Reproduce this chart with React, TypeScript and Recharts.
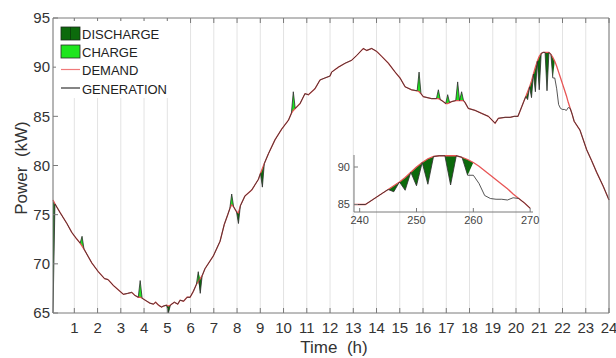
import React from 'react';
import { ComposedChart, Line, Area, XAxis, YAxis, CartesianGrid } from 'recharts';

// Time in hours (5-minute samples around events)
const hours = [
  0.083, 0.167, 0.39, 0.68, 0.89, 1.08, 1.25, 1.333, 1.417, 1.75,
  2.03, 2.3, 2.45, 2.68, 3.11, 3.3, 3.47, 3.6, 3.75, 3.833,
  3.917, 4.12, 4.25, 4.4, 4.5, 4.62, 4.75, 4.83, 4.967, 5.05,
  5.133, 5.3, 5.45, 5.55, 5.7, 5.85, 5.98, 6.12, 6.25, 6.333,
  6.417, 6.5, 6.62, 6.98, 7.27, 7.45, 7.6, 7.687, 7.77, 7.853,
  7.977, 8.06, 8.143, 8.34, 8.63, 8.92, 9.007, 9.09, 9.173, 9.35,
  9.63, 9.92, 10.21, 10.337, 10.42, 10.503, 10.71, 10.92, 11.07, 11.35,
  11.57, 11.78, 12.0, 12.07, 12.36, 12.65, 12.93, 13.15, 13.43, 13.58,
  13.79, 14.01, 14.22, 14.51, 14.8, 15.01, 15.23, 15.51, 15.747, 15.83,
  15.913, 16.01, 16.37, 16.577, 16.66, 16.743, 16.87, 16.977, 17.06, 17.143,
  17.23, 17.407, 17.49, 17.573, 17.66, 17.743, 17.81, 17.95, 18.24, 18.52,
  18.81, 19.1, 19.24, 19.53, 19.75, 19.917, 20, 20.083, 20.167, 20.25,
  20.333, 20.417, 20.5, 20.583, 20.667, 20.75, 20.833, 20.917, 21, 21.083,
  21.167, 21.25, 21.333, 21.417, 21.5, 21.583, 21.667, 21.75, 21.833, 21.917,
  22, 22.083, 22.167, 22.25, 22.333, 22.417, 22.5, 22.75, 23.04, 23.25,
  23.47, 23.75, 24,
];

// Demand (kW)
const demand = [
  76.5, 76.1, 75.2, 74.1, 73.2, 72.6, 72.1, 71.8, 71.5, 70.1,
  69.2, 68.5, 68.4, 67.8, 66.9, 67.0, 67.1, 66.8, 66.6, 66.6,
  66.5, 66.2, 66.0, 65.9, 66.1, 65.8, 65.6, 65.7, 65.8, 65.7,
  65.8, 66.1, 65.9, 66.3, 66.2, 66.6, 66.6, 67.2, 67.9, 68.2,
  68.5, 68.8, 69.5, 70.8, 72.3, 74.0, 75.0, 75.6, 76.0, 75.8,
  75.3, 75.2, 75.9, 76.9, 77.5, 78.6, 79.2, 79.7, 80.2, 81.2,
  82.6, 83.7, 84.6, 85.3, 85.6, 85.8, 86.3, 87.3, 87.2, 87.8,
  88.7, 88.9, 89.1, 89.5, 90.0, 90.4, 90.7, 91.2, 91.9, 91.7,
  91.9, 91.6, 91.1, 90.4, 89.5, 88.9, 88.0, 87.7, 87.6, 87.5,
  87.3, 87.0, 86.8, 86.8, 86.8, 86.7, 86.5, 86.3, 86.3, 86.4,
  86.5, 86.6, 86.6, 86.6, 86.6, 86.6, 86.4, 85.8, 85.6, 85.3,
  85.0, 84.3, 84.8, 84.9, 84.9, 85.0, 85.0, 85.0, 85.5, 86.0,
  86.5, 87.0, 87.5, 88.0, 88.6, 89.3, 90.0, 90.6, 91.1, 91.4,
  91.5, 91.5, 91.5, 91.5, 91.3, 91.0, 90.6, 90.1, 89.5, 88.9,
  88.3, 87.7, 87.1, 86.4, 85.8, 85.2, 84.5, 83.6, 81.6, 80.5,
  79.3, 77.9, 76.5,
];

// Generation (kW)
const generation = [
  65.0, 76.1, 75.2, 74.1, 73.2, 72.6, 72.1, 72.8, 71.5, 70.1,
  69.2, 68.5, 68.4, 67.8, 66.9, 67.0, 67.1, 66.8, 66.6, 68.3,
  66.5, 66.2, 66.0, 65.9, 66.1, 65.8, 65.6, 65.7, 65.8, 65.0,
  65.8, 66.1, 65.9, 66.3, 66.2, 66.6, 66.6, 67.2, 67.9, 69.2,
  67.0, 68.8, 69.5, 70.8, 72.3, 74.0, 75.0, 75.6, 77.1, 75.8,
  75.3, 74.1, 75.9, 76.9, 77.5, 78.6, 79.2, 77.8, 80.2, 81.2,
  82.6, 83.7, 84.6, 85.3, 87.5, 85.8, 86.3, 87.3, 87.2, 87.8,
  88.7, 88.9, 89.1, 89.5, 90.0, 90.4, 90.7, 91.2, 91.9, 91.7,
  91.9, 91.6, 91.1, 90.4, 89.5, 88.9, 88.0, 87.7, 87.6, 89.5,
  87.3, 87.0, 86.8, 86.8, 87.7, 86.7, 86.5, 86.3, 87.2, 86.4,
  86.5, 86.6, 88.5, 86.6, 87.5, 86.6, 86.4, 85.8, 85.6, 85.3,
  85.0, 84.3, 84.8, 84.9, 84.9, 85.0, 85.0, 85.0, 85.5, 86.0,
  86.5, 87.0, 86.7, 88.0, 86.9, 89.3, 87.5, 90.6, 87.7, 91.4,
  91.5, 91.5, 87.6, 91.5, 91.3, 88.9, 88.9, 87.8, 86.2, 85.8,
  85.7, 85.7, 85.6, 85.9, 85.8, 85.2, 84.5, 83.6, 81.6, 80.5,
  79.3, 77.9, 76.5,
];

// Battery flows (kW): positive = charge, negative = discharge
const batteryHours = [
  0.083, 1.333, 3.833, 5.05, 6.333, 6.417, 7.77, 8.06, 9.09, 10.42,
  15.83, 16.66, 17.06, 17.49, 17.66, 20.5, 20.667, 20.833, 21, 21.333, 21.583,
];
const batteryKW = [
  -11.5, 1.0, 1.7, -0.7, 1.0, -1.5, 1.1, -1.1, -1.9, 1.9,
  2.0, 0.9, 0.9, 1.9, 0.9, -0.8, -1.7, -2.5, -3.4, -3.9, -2.1,
];

const xTicks = [1, 2, 3, 4, 5, 6, 7, 8, 9, 10, 11, 12, 13, 14, 15, 16, 17, 18, 19, 20, 21, 22, 23, 24];
const yTicks = [65, 70, 75, 80, 85, 90, 95];
const insetXTicks = [240, 250, 260, 270];
const insetYTicks = [85, 90];
const legendLabels = ['DISCHARGE', 'CHARGE', 'DEMAND', 'GENERATION'];

const FONT = '"Liberation Sans", Arial, Helvetica, sans-serif';
const AXIS = '#7a7a7a';
const DIS_COLOR = '#0c6a0c';
const CHG_COLOR = '#1ee61e';
const RED = '#e85555';
const BLACK = '#2e2e2e';

const batteryAt = (h: number) => {
  const i = batteryHours.findIndex((b) => Math.abs(b - h) < 0.002);
  return i >= 0 ? batteryKW[i] : 0;
};

const rows = hours.map((h, i) => {
  const d = demand[i];
  const b = batteryAt(h);
  return {
    h,
    sample: h * 12,
    demand: d,
    gen: generation[i],
    dis: b < 0 ? [d + b, d] : [d, d],
    chg: b > 0 ? [d, d + b] : [d, d],
  };
});

const insetRows = rows.filter((r) => r.h >= 19.9 && r.h <= 22.51);

const NoTick = () => <g />;

const series = () => [
  <Area key="dis" dataKey="dis" type="linear" stroke="none" fill={DIS_COLOR} fillOpacity={1} isAnimationActive={false} dot={false} activeDot={false} />,
  <Area key="chg" dataKey="chg" type="linear" stroke="none" fill={CHG_COLOR} fillOpacity={1} isAnimationActive={false} dot={false} activeDot={false} />,
  <Line key="dem" dataKey="demand" type="linear" stroke={RED} strokeWidth={1.3} dot={false} activeDot={false} isAnimationActive={false} />,
  <Line key="gen" dataKey="gen" type="linear" stroke={BLACK} strokeWidth={0.9} strokeOpacity={0.9} dot={false} activeDot={false} isAnimationActive={false} />,
];

export default function App() {
  return (
    <div style={{ position: 'absolute', left: 0, top: 0, width: 616, height: 358, background: '#fff' }}>
      <div style={{ position: 'absolute', left: 0, top: 0 }}>
        <ComposedChart width={616} height={358} data={rows} margin={{ top: 17, right: 6, bottom: 0, left: 0 }}>
          <CartesianGrid vertical horizontal={false} stroke="#e3e3e3" />
          <XAxis
            dataKey="h"
            type="number"
            domain={[0.083, 24]}
            ticks={xTicks}
            interval={0}
            height={45}
            tickSize={-5}
            tickMargin={14}
            axisLine={{ stroke: AXIS }}
            tickLine={{ stroke: AXIS }}
            tick={{ fontSize: 15, fill: '#333', fontFamily: FONT }}
          />
          <XAxis
            xAxisId="top"
            orientation="top"
            dataKey="h"
            type="number"
            domain={[0.083, 24]}
            ticks={xTicks}
            interval={0}
            height={1}
            tickSize={-5}
            axisLine={{ stroke: AXIS }}
            tickLine={{ stroke: AXIS }}
            tick={NoTick}
          />
          <YAxis
            domain={[65, 95]}
            ticks={yTicks}
            allowDataOverflow
            width={53}
            interval={0}
            tickSize={-5}
            tickMargin={8}
            axisLine={{ stroke: AXIS }}
            tickLine={{ stroke: AXIS }}
            tick={{ fontSize: 15, fill: '#333', fontFamily: FONT }}
          />
          <YAxis
            yAxisId="r"
            orientation="right"
            domain={[65, 95]}
            ticks={yTicks}
            width={1}
            interval={0}
            tickSize={-5}
            axisLine={{ stroke: AXIS }}
            tickLine={{ stroke: AXIS }}
            tick={NoTick}
          />
          {series()}
        </ComposedChart>
      </div>

      <div style={{ position: 'absolute', left: 320, top: 140 }}>
        <ComposedChart width={230} height={90} data={insetRows} margin={{ top: 15, right: 17, bottom: 0, left: 0 }}>
          <XAxis
            dataKey="sample"
            type="number"
            domain={[239, 270.5]}
            ticks={insetXTicks}
            interval={0}
            height={18}
            tickSize={-4}
            tickMargin={8}
            axisLine={{ stroke: AXIS }}
            tickLine={{ stroke: AXIS }}
            tick={{ fontSize: 11, fill: '#444', fontFamily: FONT }}
          />
          <YAxis
            domain={[84, 91.6]}
            ticks={insetYTicks}
            allowDataOverflow
            width={34}
            interval={0}
            tickSize={-4}
            tickMargin={8}
            axisLine={{ stroke: AXIS }}
            tickLine={{ stroke: AXIS }}
            tick={{ fontSize: 11, fill: '#444', fontFamily: FONT }}
          />
          {series()}
        </ComposedChart>
      </div>

      <svg width={616} height={358} style={{ position: 'absolute', left: 0, top: 0, pointerEvents: 'none' }}>
        <rect x={56} y={21} width={114} height={77} fill="#fff" />
        <rect x={61} y={27} width={19} height={13} fill={DIS_COLOR} stroke="#1c2a1c" strokeWidth={0.8} />
        <line x1={70.5} y1={27} x2={70.5} y2={40} stroke="#0a3a0a" strokeWidth={0.8} />
        <rect x={61} y={45} width={19} height={13} fill={CHG_COLOR} stroke="#2a2a2a" strokeWidth={0.8} />
        <line x1={61} y1={69.5} x2={80} y2={69.5} stroke="#f07a7a" strokeWidth={1.2} />
        <line x1={61} y1={88} x2={80} y2={88} stroke="#333" strokeWidth={1.2} />
        {legendLabels.map((t, i) => (
          <text key={t} x={82} y={[38.5, 57, 75, 93.5][i]} fontSize={13} fill="#222" fontFamily={FONT}>
            {t}
          </text>
        ))}
        <text x={334} y={353} textAnchor="middle" fontSize={17} fill="#333" fontFamily={FONT}>
          {'Time\u00a0 (h)'}
        </text>
        <text
          x={26.5}
          y={168}
          textAnchor="middle"
          fontSize={17}
          fill="#333"
          fontFamily={FONT}
          transform="rotate(-90 26.5 168)"
        >
          {'Power\u00a0 (kW)'}
        </text>
      </svg>
    </div>
  );
}
